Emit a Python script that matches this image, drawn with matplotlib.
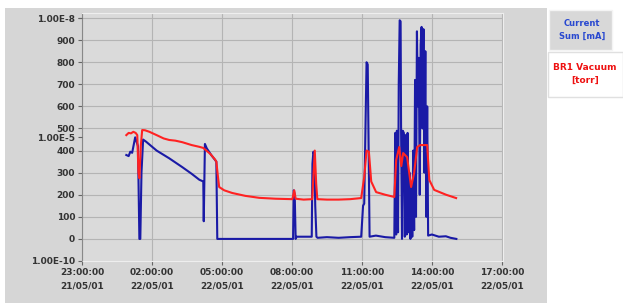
import matplotlib
matplotlib.use("Agg")
import matplotlib.pyplot as plt
from matplotlib.patches import Rectangle

# hours after 23:00:00 21/05/01
cur_t = [1.90, 2.00, 2.07, 2.15, 2.28, 2.40, 2.46, 2.50, 2.55, 2.62, 2.75, 3.20, 3.74, 4.30, 4.70,
         5.03, 5.20, 5.22, 5.27, 5.35, 5.54, 5.76, 5.80, 9.05, 9.08, 9.12, 9.16, 9.20, 9.85, 9.88,
         9.92, 9.96, 10.00, 10.05, 10.10, 10.50, 11.00, 11.50, 11.97, 12.05, 12.10, 12.20, 12.25,
         12.30, 12.33, 12.60, 13.00, 13.39, 13.43, 13.47, 13.50, 13.55, 13.58, 13.62, 13.66, 13.68,
         13.72, 13.75, 13.80, 13.84, 13.88, 13.92, 13.96, 14.00, 14.04, 14.08, 14.12, 14.16, 14.20,
         14.24, 14.28, 14.32, 14.36, 14.40, 14.44, 14.48, 14.52, 14.56, 14.60, 14.64, 14.68, 14.72,
         14.76, 14.80, 14.84, 15.00, 15.30, 15.60, 15.80, 16.05]
cur_v = [380, 375, 395, 390, 460, 420, 0, 0, 300, 450, 440, 400, 365, 325, 295,
         268, 260, 80, 430, 410, 380, 350, 0, 0, 220, 200, 0, 10, 10, 340,
         395, 380, 150, 10, 5, 8, 5, 8, 10, 150, 160, 800, 790,
         300, 10, 15, 8, 5, 480, 20, 490, 30, 700, 990, 985, 500,
         0, 490, 480, 10, 470, 20, 480, 30, 300, 0, 250, 10, 400,
         40, 720, 100, 940, 600, 820, 200, 880, 960, 500, 950, 300, 850,
         100, 600, 15, 20, 10, 12, 5, 0]

vac_t = [1.90, 2.00, 2.10, 2.20, 2.30, 2.37, 2.42, 2.46, 2.52, 2.58, 2.70, 2.89, 3.20, 3.50, 3.74,
         4.00, 4.30, 4.70, 5.03, 5.20, 5.33, 5.50, 5.70, 5.76, 5.82, 5.88, 6.10, 6.44, 7.00, 7.60,
         8.30, 9.02, 9.10, 9.16, 9.50, 9.87, 9.93, 9.98, 10.04, 10.09, 10.50, 11.00, 11.50, 11.97,
         12.10, 12.20, 12.30, 12.40, 12.61, 13.00, 13.39, 13.47, 13.60, 13.69, 13.77, 13.94, 14.11,
         14.24, 14.37, 14.50, 14.80, 14.89, 15.10, 15.61, 16.04]
vac_v = [470, 480, 478, 485, 480, 470, 300, 275, 420, 493, 492, 485, 470, 455, 448,
         445, 438, 425, 417, 412, 400, 385, 360, 350, 290, 235, 220, 208, 195, 186,
         182, 180, 220, 182, 178, 180, 300, 400, 250, 180, 178, 178, 180, 185,
         280, 400, 395, 260, 212, 200, 190, 357, 416, 330, 389, 370, 235,
         299, 416, 425, 425, 267, 222, 200, 185]

x_ticks = [0, 3, 6, 9, 12, 15, 18]
x_labels = ["23:00:00\n21/05/01", "02:00:00\n22/05/01", "05:00:00\n22/05/01", "08:00:00\n22/05/01",
            "11:00:00\n22/05/01", "14:00:00\n22/05/01", "17:00:00\n22/05/01"]
cur_ticks = [0, 100, 200, 300, 400, 500, 600, 700, 800, 900, 1000]
cur_labels = ["0", "100", "200", "300", "400", "500", "600", "700", "800", "900", ""]
vac_ticks = [-100, 461, 1000]
vac_labels = ["1.00E-10", "1.00E-5", "1.00E-8"]

W, H = 623, 306
fig = plt.figure(figsize=(W / 100, H / 100), dpi=100, facecolor="white")
fig.patches.append(Rectangle((5 / W, 1 - 303 / H), 542 / W, 295 / H, transform=fig.transFigure,
                             facecolor="#d6d6d6", edgecolor="none", zorder=-5))

ax = fig.add_axes([82 / W, 1 - 261 / H, 421 / W, 248 / H])
ax.set_facecolor("#dadada")
ax.plot(vac_t, vac_v, color="#ff2222", lw=1.5, zorder=3)
ax.plot(cur_t, cur_v, color="#1a1aa6", lw=1.5, zorder=2)
ax.set_xlim(0, 18.05)
ax.set_ylim(-100, 1023)
ax.set_xticks(x_ticks)
ax.set_xticklabels(x_labels, fontsize=6.5, color="#333333", weight="bold", linespacing=1.6)
ax.set_yticks(cur_ticks)
ax.set_yticklabels(cur_labels, fontsize=6.5, color="#333333", weight="bold")
ax.grid(True, color="#b4b4b4", lw=0.8)
ax.tick_params(length=3, width=0.8, color="#666666", pad=2)
for s in ["top", "right", "bottom"]:
    ax.spines[s].set_color("#eeeeee")
ax.spines["left"].set_color("#888888")

ax2 = ax.twinx()
ax2.set_ylim(ax.get_ylim())
ax2.yaxis.tick_left()
ax2.set_yticks(vac_ticks)
ax2.set_yticklabels(vac_labels, fontsize=6.5, color="#333333", weight="bold")
ax2.tick_params(length=3, width=0.8, color="#666666", pad=2)
for s in ax2.spines.values():
    s.set_visible(False)

# legend boxes
fig.patches.append(Rectangle((549 / W, 1 - 50 / H), 63 / W, 40 / H, transform=fig.transFigure,
                             facecolor="#d8d8d8", edgecolor="#f4f4f4", lw=1))
fig.patches.append(Rectangle((548 / W, 1 - 97 / H), 75 / W, 45 / H, transform=fig.transFigure,
                             facecolor="white", edgecolor="#e0e0e0", lw=1))
fig.text(582 / W, 1 - 30 / H, "Current\nSum [mA]", color="#2848d0", fontsize=6, weight="bold",
         ha="center", va="center", linespacing=1.5)
fig.text(585 / W, 1 - 74 / H, "BR1 Vacuum\n[torr]", color="#ee1111", fontsize=6.5, weight="bold",
         ha="center", va="center", linespacing=1.5)

fig.savefig("out.png", dpi=100, facecolor=fig.get_facecolor())
